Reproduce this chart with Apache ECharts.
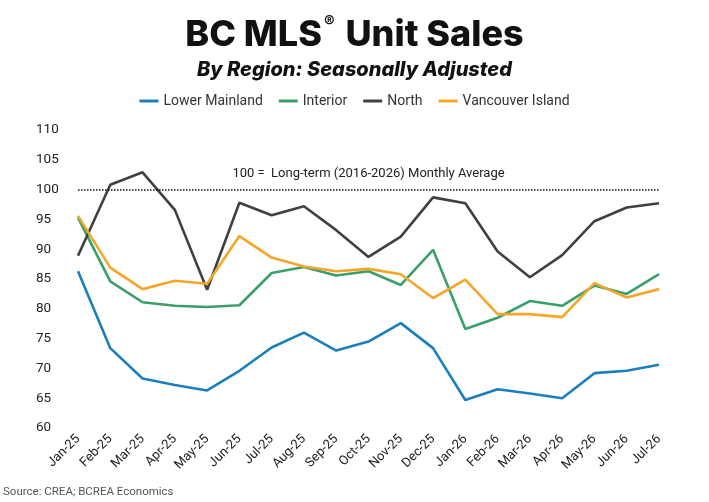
<!DOCTYPE html>
<html>
<head>
<meta charset="utf-8">
<script src="https://cdn.jsdelivr.net/npm/echarts@6/dist/echarts.min.js"></script>
<style>
	html, body { margin: 0; padding: 0; background: #fff; }
	#main { width: 709px; height: 502px; }
</style>
</head>
<body>
<div id="main"></div>
<script>
var months = ['Jan-25', 'Feb-25', 'Mar-25', 'Apr-25', 'May-25', 'Jun-25', 'Jul-25', 'Aug-25', 'Sep-25', 'Oct-25',
	'Nov-25', 'Dec-25', 'Jan-26', 'Feb-26', 'Mar-26', 'Apr-26', 'May-26', 'Jun-26', 'Jul-26'];
var lowerMainland = [86.3, 73.4, 68.3, 67.2, 66.3, 69.6, 73.5, 76.0, 73.0, 74.5,
	77.6, 73.4, 64.7, 66.5, 65.8, 65.0, 69.2, 69.6, 70.6];
var interior = [95.3, 84.6, 81.1, 80.5, 80.3, 80.6, 86.0, 87.0, 85.6, 86.3,
	84.0, 89.9, 76.6, 78.5, 81.3, 80.5, 83.9, 82.5, 85.8];
var north = [88.9, 100.8, 102.9, 96.6, 83.2, 97.8, 95.7, 97.2, 93.2, 88.7,
	92.1, 98.7, 97.7, 89.6, 85.3, 89.0, 94.7, 97.0, 97.7];
var vancouverIsland = [95.6, 86.9, 83.3, 84.7, 84.2, 92.2, 88.6, 87.1, 86.3, 86.7,
	85.8, 81.8, 84.9, 79.1, 79.1, 78.6, 84.3, 81.9, 83.3];
var seriesNames = ['Lower Mainland', 'Interior', 'North', 'Vancouver Island'];
var colors = ['#1b7fbd', '#3a9f6b', '#404040', '#f4a62a'];
var avgLevel = 100;

var myChart = echarts.init(document.getElementById('main'));

function lineSeries(name, data, color) {
	return {
		name: name,
		type: 'line',
		data: data,
		symbol: 'none',
		lineStyle: { width: 2.6, color: color },
		itemStyle: { color: color }
	};
}

var series = [
	lineSeries(seriesNames[0], lowerMainland, colors[0]),
	lineSeries(seriesNames[1], interior, colors[1]),
	lineSeries(seriesNames[2], north, colors[2]),
	lineSeries(seriesNames[3], vancouverIsland, colors[3])
];
// dotted long-term average line
series[0].markLine = {
	silent: true,
	symbol: 'none',
	lineStyle: { type: 'dotted', color: '#111', width: 1.5 },
	label: {
		position: 'insideMiddleTop',
		formatter: '100 =  Long-term (2016-2026) Monthly Average',
		color: '#222',
		fontFamily: 'Roboto',
		fontSize: 13,
		distance: 9
	},
	data: [{ yAxis: avgLevel }]
};

var option = {
	animation: false,
	textStyle: { fontFamily: 'Roboto' },
	title: [{
		text: '{a|BC MLS}{r|®}{a| Unit Sales}',
		left: 'center',
		top: 9,
		textStyle: {
			rich: {
				a: { fontFamily: 'Inter', fontWeight: 800, fontSize: 36, color: '#111', lineHeight: 42 },
				r: { fontFamily: 'Inter', fontWeight: 700, fontSize: 16, color: '#111', verticalAlign: 'top', lineHeight: 42, padding: [0, 3, 16, 2] }
			}
		}
	}, {
		text: 'By Region: Seasonally Adjusted',
		left: 'center',
		top: 55,
		textStyle: { fontFamily: 'Inter', fontWeight: 800, fontStyle: 'italic', fontSize: 20, color: '#111' }
	}, {
		text: 'Source: CREA; BCREA Economics',
		left: 3,
		top: 486,
		padding: 0,
		textStyle: { fontFamily: 'Roboto', fontWeight: 'normal', fontSize: 11.5, color: '#555' }
	}],
	legend: {
		data: seriesNames,
		top: 89,
		left: 'center',
		itemWidth: 19,
		itemHeight: 3,
		itemGap: 16,
		icon: 'rect',
		textStyle: { fontFamily: 'Roboto', fontSize: 14, color: '#333' }
	},
	grid: { left: 78, right: 50, top: 130, bottom: 74 },
	xAxis: {
		type: 'category',
		data: months,
		boundaryGap: false,
		axisLine: { show: false },
		axisTick: { show: false },
		splitLine: { show: false },
		axisLabel: { rotate: 45, margin: 9, interval: 0, fontSize: 13, color: '#222', fontFamily: 'Roboto' }
	},
	yAxis: {
		type: 'value',
		min: 60,
		max: 110,
		interval: 5,
		axisLine: { show: false },
		axisTick: { show: false },
		splitLine: { show: false },
		axisLabel: { align: 'left', margin: 42, fontSize: 13.5, color: '#222', fontFamily: 'Roboto' }
	},
	series: series
};

myChart.setOption(option);
</script>
</body>
</html>
